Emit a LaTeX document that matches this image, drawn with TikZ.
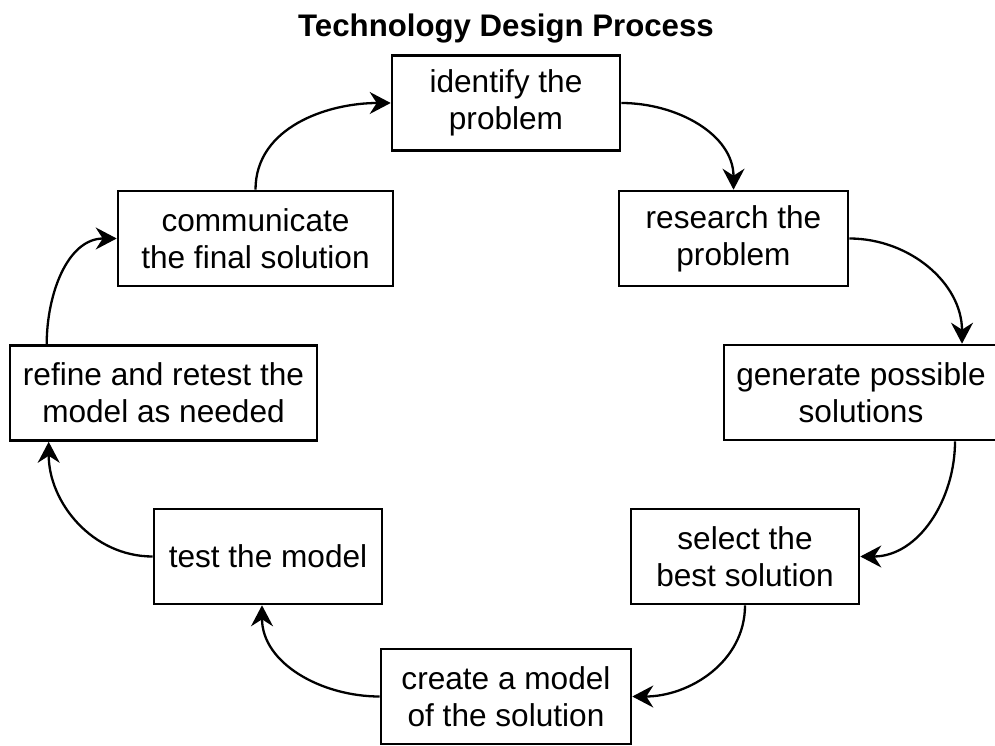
\documentclass[tikz,border=0pt]{standalone}
\usepackage{fontspec}
\setmainfont{Liberation Sans}
\usepackage{tikz}
\usetikzlibrary{arrows.meta}

\begin{document}
\begin{tikzpicture}[x=1pt, y=1pt,
    every node/.style={font=\fontsize{31.6}{37}\selectfont, align=center, inner sep=0pt},
    box/.style={draw, line width=2.6pt, minimum height=95pt},
    flow/.style={line width=2.3pt, -{Stealth[length=21pt, width=22pt, inset=7pt]}}]
  \useasboundingbox (0,0) rectangle (995,745);

  \node[font=\fontsize{31.2}{36}\selectfont\bfseries] (title) at (506,716) {Technology Design Process};

  \node[box, minimum width=228pt] (ident) at (506,642) {identify the\\problem};
  \node[box, minimum width=229pt] (research) at (733.5,506.5) {research the\\problem};
  \node[box, minimum width=274pt] (gen) at (861,352.5) {generate possible\\solutions};
  \node[box, minimum width=228pt] (select) at (745,188.5) {select the\\best solution};
  \node[box, minimum width=250pt] (create) at (506,48.5) {create a model\\of the solution};
  \node[box, minimum width=228pt] (test) at (268,188.5) {test the model};
  \node[box, minimum width=307pt] (refine) at (163.5,352) {refine and retest the\\model as needed};
  \node[box, minimum width=275pt] (comm) at (255.5,506.5) {communicate\\the final solution};

  \draw[flow] (ident.east) to[out=0, in=90] (research.north);
  \draw[flow] (research.east) to[out=0, in=90] ([xshift=101pt]gen.north);
  \draw[flow] ([xshift=94pt]gen.south) to[out=-90, in=0] (select.east);
  \draw[flow] (select.south) to[out=-90, in=0] (create.east);
  \draw[flow] (create.west) to[out=180, in=-90] ([xshift=-6pt]test.south);
  \draw[flow] (test.west) to[out=180, in=-90] ([xshift=40pt]refine.south west);
  \draw[flow] ([xshift=38pt]refine.north west) to[out=90, in=180] (comm.west);
  \draw[flow] (comm.north) to[out=90, in=180] (ident.west);
\end{tikzpicture}
\end{document}
